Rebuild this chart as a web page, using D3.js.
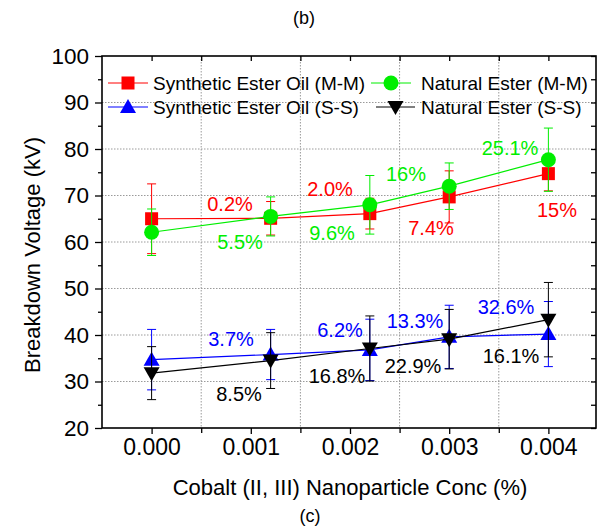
<!DOCTYPE html>
<html><head><meta charset="utf-8">
<script src="https://cdn.jsdelivr.net/npm/d3@7"></script>
<style>body{margin:0;background:#fff}svg{display:block;font-family:Arial,"Liberation Sans",sans-serif}</style>
</head><body><svg id="c" width="598" height="527"></svg>
<script>
const concs = [0, 0.0012, 0.0022, 0.003, 0.004];
const tickValues = [0, 0.001, 0.002, 0.003, 0.004];
const tickLabels = ["0.000", "0.001", "0.002", "0.003", "0.004"];
const synMM = [65.0, 65.1, 66.1, 69.7, 74.7];
const synMMErr = [7.5, 3.6, 3.3, 5.6, 3.7];
const natMM = [62.1, 65.5, 68.0, 72.0, 77.7];
const natMMErr = [5.0, 4.2, 6.3, 5.0, 6.8];
const synSS = [34.7, 35.8, 36.8, 39.6, 40.2];
const synSSErr = [6.5, 5.4, 6.6, 6.8, 7.0];
const natSS = [31.8, 34.5, 37.1, 39.1, 43.3];
const natSSErr = [5.7, 6.0, 7.0, 6.4, 8.0];
const synMMLabels = ["", "0.2%", "2.0%", "7.4%", "15%"];
const natMMLabels = ["", "5.5%", "9.6%", "16%", "25.1%"];
const synSSLabels = ["", "3.7%", "6.2%", "13.3%", "32.6%"];
const natSSLabels = ["", "8.5%", "16.8%", "22.9%", "16.1%"];

const svg = d3.select("#c");
const L = 102, R = 596, T = 56, B = 428;
const x = d3.scaleLinear().domain([-0.0005, 0.00448]).range([L, R]);
const y = d3.scaleLinear().domain([20, 100]).range([B, T]);

// grid
const g = svg.append("g");
const yGrid = d3.range(30, 100, 10);
g.selectAll(".gy").data(yGrid).join("line")
  .attr("x1", L).attr("x2", R).attr("y1", d => y(d)).attr("y2", d => y(d))
  .attr("stroke", "#9a9a9a").attr("stroke-width", 1).attr("stroke-dasharray", "1.5,1.5");
const xGrid = [0.0005, 0.0015, 0.0025, 0.0035];
g.selectAll(".gx").data(xGrid).join("line")
  .attr("y1", T).attr("y2", B).attr("x1", d => x(d)).attr("x2", d => x(d))
  .attr("stroke", "#9a9a9a").attr("stroke-width", 1).attr("stroke-dasharray", "1.5,1.5");

// axes
const fmt = d => tickLabels[tickValues.findIndex(v => Math.abs(v - d) < 1e-9)];
const xAxisB = d3.axisBottom(x).tickValues(tickValues).tickFormat(fmt).tickSize(6).tickPadding(5);
const gb = svg.append("g").attr("transform", `translate(0,${B})`).call(xAxisB);
const xMinor = d3.axisBottom(x).tickValues(xGrid).tickFormat("").tickSize(5);
svg.append("g").attr("transform", `translate(0,${B})`).call(xMinor);
const yAxisL = d3.axisLeft(y).tickValues(d3.range(20, 101, 10)).tickSize(7).tickPadding(6);
const gl = svg.append("g").attr("transform", `translate(${L},0)`).call(yAxisL);
svg.append("g").attr("transform", `translate(${L},0)`)
  .call(d3.axisLeft(y).tickValues(d3.range(25, 100, 10)).tickFormat("").tickSize(4));
// top/right inward ticks
svg.append("g").attr("transform", `translate(0,${T})`)
  .call(d3.axisBottom(x).tickValues(tickValues.concat(xGrid)).tickFormat("").tickSize(5));
svg.append("g").attr("transform", `translate(${R},0)`)
  .call(d3.axisLeft(y).tickValues(d3.range(20, 101, 5)).tickFormat("").tickSize(5));
svg.selectAll(".domain").remove();
svg.selectAll(".tick line").attr("stroke", "#000").attr("stroke-width", 1.3);
gb.selectAll("text").attr("font-size", 23).attr("fill", "#000").attr("font-family", "Arial, Liberation Sans");
gl.selectAll("text").attr("font-size", 22.5).attr("fill", "#000").attr("font-family", "Arial, Liberation Sans");
svg.append("rect").attr("x", L).attr("y", T).attr("width", R - L).attr("height", B - T)
  .attr("fill", "none").attr("stroke", "#000").attr("stroke-width", 1.6);

// symbols
function marker(sel, type, color, cx, cy) {
  if (type === "square") sel.append("rect").attr("x", cx - 6.5).attr("y", cy - 6.5).attr("width", 13).attr("height", 13).attr("fill", color);
  else if (type === "circle") sel.append("circle").attr("cx", cx).attr("cy", cy).attr("r", 7.5).attr("fill", color);
  else if (type === "up") sel.append("path").attr("d", `M${cx},${cy - 8}L${cx + 8},${cy + 6}L${cx - 8},${cy + 6}Z`).attr("fill", color);
  else sel.append("path").attr("d", `M${cx},${cy + 8}L${cx + 8},${cy - 6}L${cx - 8},${cy - 6}Z`).attr("fill", color);
}
const series = [
  {name: "Synthetic Ester Oil (M-M)", v: synMM, e: synMMErr, c: "#ff0000", t: "square"},
  {name: "Natural Ester (M-M)", v: natMM, e: natMMErr, c: "#00ee00", t: "circle"},
  {name: "Synthetic Ester Oil (S-S)", v: synSS, e: synSSErr, c: "#0000ff", t: "up"},
  {name: "Natural Ester (S-S)", v: natSS, e: natSSErr, c: "#000000", t: "down"}
];
const line = d3.line().x((d, i) => x(concs[i])).y(d => y(d));
series.forEach(s => {
  const sg = svg.append("g");
  sg.append("path").attr("d", line(s.v)).attr("fill", "none").attr("stroke", s.c).attr("stroke-width", 1.2);
  s.v.forEach((v, i) => {
    const cx = x(concs[i]);
    sg.append("line").attr("x1", cx).attr("x2", cx).attr("y1", y(v - s.e[i])).attr("y2", y(v + s.e[i])).attr("stroke", s.c).attr("stroke-width", 1);
    [v - s.e[i], v + s.e[i]].forEach(w => sg.append("line").attr("x1", cx - 4.5).attr("x2", cx + 4.5).attr("y1", y(w)).attr("y2", y(w)).attr("stroke", s.c).attr("stroke-width", 1));
    marker(sg, s.t, s.c, cx, y(v));
  });
});

// annotations
const ann = [
  {lab: synMMLabels, c: "#ff0000", pos: [null, [230, 211], [330, 196], [431, 235], [557, 217]]},
  {lab: natMMLabels, c: "#00ee00", pos: [null, [240, 249], [332, 240], [406, 181], [510, 155]]},
  {lab: synSSLabels, c: "#0000ff", pos: [null, [231, 346], [340, 337], [415, 328], [506, 314]]},
  {lab: natSSLabels, c: "#000000", pos: [null, [239, 401], [337, 383], [413, 373], [511, 363]]}
];
ann.forEach(a => a.lab.forEach((t, i) => {
  if (!t) return;
  svg.append("text").attr("x", a.pos[i][0]).attr("y", a.pos[i][1]).attr("text-anchor", "middle")
    .attr("font-size", 20).attr("fill", a.c).text(t);
}));

// legend
const leg = [
  {s: series[0], lx: 108, rx: 148, tx: 153, y: 83},
  {s: series[1], lx: 371, rx: 411, tx: 421, y: 83},
  {s: series[2], lx: 108, rx: 148, tx: 153, y: 107},
  {s: series[3], lx: 376, rx: 415, tx: 421, y: 107}
];
leg.forEach(l => {
  const lg = svg.append("g");
  lg.append("line").attr("x1", l.lx).attr("x2", l.rx).attr("y1", l.y).attr("y2", l.y).attr("stroke", l.s.c).attr("stroke-width", 1);
  marker(lg, l.s.t, l.s.c, (l.lx + l.rx) / 2, l.y);
  lg.append("text").attr("x", l.tx).attr("y", l.y + 7).attr("font-size", 19).attr("fill", "#000").text(l.s.name);
});

// titles
svg.append("text").attr("transform", "translate(40,255) rotate(-90)").attr("text-anchor", "middle")
  .attr("font-size", 22).text("Breakdown Voltage (kV)");
svg.append("text").attr("x", 350).attr("y", 495).attr("text-anchor", "middle").attr("font-size", 22)
  .text("Cobalt (II, III) Nanoparticle Conc (%)");
svg.append("text").attr("x", 304).attr("y", 24).attr("text-anchor", "middle").attr("font-size", 18).text("(b)");
svg.append("text").attr("x", 310).attr("y", 522).attr("text-anchor", "middle").attr("font-size", 18).text("(c)");
</script></body></html>
